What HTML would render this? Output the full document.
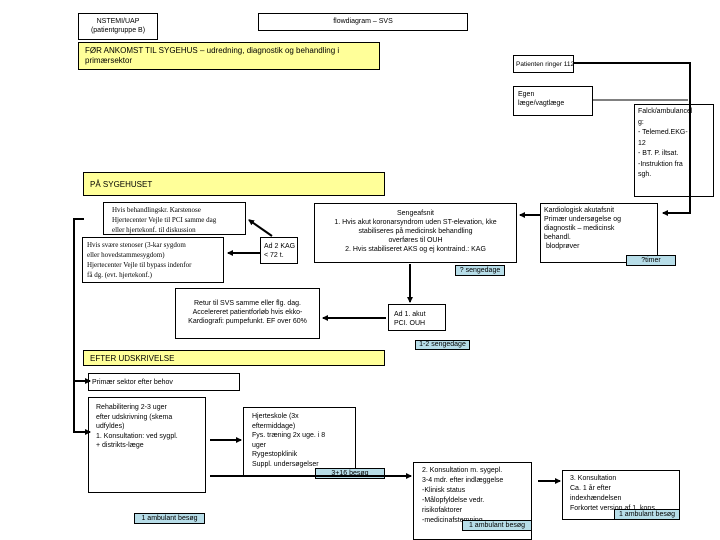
<!DOCTYPE html>
<html><head><meta charset="utf-8"><style>
body{margin:0;width:720px;height:540px;background:#fff;position:relative;overflow:hidden;font-family:"Liberation Sans",sans-serif;font-size:7px;line-height:9px;color:#000}
.b{position:absolute;border:1px solid #000;background:#fff;box-sizing:border-box;padding:2px 3px;white-space:nowrap}
.y{position:absolute;border:1px solid #000;background:#ffff99;box-sizing:border-box;padding:3px 6px;font-size:8px;line-height:10px}
.t{position:absolute;border:1px solid #000;background:#b7dde8;box-sizing:border-box;font-size:7px;line-height:9px;text-align:center}
.c{text-align:center}
.s{font-family:"Liberation Serif",serif;font-size:7px;line-height:10px}
svg{position:absolute;left:0;top:0}
</style></head><body>
<div class="b c" style="left:78px;top:13px;width:80px;height:27px;padding-top:3px">NSTEMI/UAP<br>(patientgruppe B)</div>
<div class="b c" style="left:258px;top:13px;width:210px;height:18px;padding-top:3px">flowdiagram – SVS</div>
<div class="y" style="left:78px;top:42px;width:302px;height:28px">FØR ANKOMST TIL SYGEHUS – udredning, diagnostik og behandling i<br>primærsektor</div>
<div class="b" style="left:513px;top:55px;width:61px;height:18px;padding:4px 2px;font-size:6.5px">Patienten ringer 112</div>
<div class="b" style="left:513px;top:86px;width:80px;height:30px;padding:3px 4px">Egen<br>læge/vagtlæge</div>
<div class="b" style="left:634px;top:104px;width:80px;height:93px;line-height:10.5px">Falck/ambulancel<br>g:<br>- Telemed.EKG-<br>12<br>- BT. P. iltsat.<br>-Instruktion fra<br>sgh.</div>
<div class="y" style="left:83px;top:172px;width:302px;height:24px;padding-top:7px">PÅ SYGEHUSET</div>
<div class="b s" style="left:103px;top:202px;width:143px;height:33px;padding:2px 8px">Hvis behandlingskr. Karstenose<br>Hjertecenter Vejle til PCI samme dag<br>eller hjertekonf. til diskussion</div>
<div class="b s" style="left:82px;top:237px;width:142px;height:46px;padding:2px 4px">Hvis svære stenoser (3-kar sygdom<br>eller hovedstammesygdom)<br>Hjertecenter Vejle til bypass indenfor<br>få dg. (evt. hjertekonf.)</div>
<div class="b" style="left:260px;top:237px;width:38px;height:27px;padding:4px 3px">Ad 2 KAG<br>&lt; 72 t.</div>
<div class="b c" style="left:314px;top:203px;width:203px;height:60px;padding-top:5px">Sengeafsnit<br>1. Hvis akut koronarsyndrom uden ST-elevation, kke<br>stabiliseres på medicinsk behandling<br>overføres til OUH<br>2. Hvis stabiliseret AKS og ej kontraind.: KAG</div>
<div class="b" style="left:540px;top:203px;width:118px;height:60px">Kardiologisk akutafsnit<br>Primær undersøgelse og<br>diagnostik – medicinsk<br>behandl.<br>&nbsp;blodprøver</div>
<div class="t" style="left:626px;top:255px;width:50px;height:11px">?timer</div>
<div class="t" style="left:455px;top:265px;width:50px;height:11px">? sengedage</div>
<div class="b c" style="left:175px;top:288px;width:145px;height:51px;padding-top:10px">Retur til SVS samme eller flg. dag.<br>Accelereret patientforløb hvis ekko-<br>Kardiografi: pumpefunkt. EF over 60%</div>
<div class="b" style="left:388px;top:304px;width:58px;height:27px;padding:5px">Ad 1. akut<br>PCI. OUH</div>
<div class="t" style="left:415px;top:340px;width:55px;height:10px;line-height:8px">1-2 sengedage</div>
<div class="y" style="left:83px;top:350px;width:302px;height:16px;padding-top:3px">EFTER UDSKRIVELSE</div>
<div class="b" style="left:88px;top:373px;width:152px;height:18px;padding-top:4px">Primær sektor efter behov</div>
<div class="b" style="left:88px;top:397px;width:118px;height:96px;padding:5px 7px;line-height:9.5px">Rehabilitering 2-3 uger<br>efter udskrivning (skema<br>udfyldes)<br>1. Konsultation: ved sygpl.<br>+ distrikts-læge</div>
<div class="b" style="left:243px;top:407px;width:113px;height:69px;padding:4px 8px;line-height:9.5px">Hjerteskole (3x<br>eftermiddage)<br>Fys. træning 2x uge. i 8<br>uger<br>Rygestopklinik<br>Suppl. undersøgelser</div>
<div class="t" style="left:315px;top:468px;width:70px;height:11px">3+16 besøg</div>
<div class="b" style="left:413px;top:462px;width:119px;height:78px;padding:3px 8px;line-height:10px">2. Konsultation m. sygepl.<br>3-4 mdr. efter indlæggelse<br>-Klinisk status<br>-Målopfyldelse vedr.<br>risikofaktorer<br>-medicinafstemning</div>
<div class="b" style="left:562px;top:470px;width:118px;height:50px;padding:3px 7px;line-height:10px;overflow:hidden">3. Konsultation<br>Ca. 1 år efter<br>indexhændelsen<br>Forkortet version af 1. kons.</div>
<div class="t" style="left:134px;top:513px;width:71px;height:11px">1 ambulant besøg</div>
<div class="t" style="left:462px;top:520px;width:70px;height:11px">1 ambulant besøg</div>
<div class="t" style="left:614px;top:509px;width:66px;height:11px">1 ambulant besøg</div>
<svg width="720" height="540">
<defs><marker id="a" markerWidth="6" markerHeight="6" refX="5" refY="3" orient="auto" markerUnits="userSpaceOnUse"><path d="M0,0L6,3L0,6z" fill="#000"/></marker></defs>
<g stroke="#000" fill="none" stroke-width="2">
<polyline points="574,63 690,63 690,213 663,213" marker-end="url(#a)"/>
<line x1="593" y1="100" x2="688" y2="100" stroke-width="1"/>
<line x1="540" y1="215" x2="520" y2="215" marker-end="url(#a)"/>
<line x1="272" y1="236" x2="249" y2="220" marker-end="url(#a)"/>
<line x1="260" y1="253" x2="228" y2="253" marker-end="url(#a)"/>
<line x1="410" y1="264" x2="410" y2="302" marker-end="url(#a)"/>
<line x1="386" y1="318" x2="323" y2="318" marker-end="url(#a)"/>
<polyline points="84,219 74,219 74,432 90,432" marker-end="url(#a)"/>
<line x1="74" y1="381" x2="90" y2="381" marker-end="url(#a)"/>
<line x1="210" y1="440" x2="241" y2="440" marker-end="url(#a)"/>
<line x1="210" y1="476" x2="411" y2="476" marker-end="url(#a)"/>
<line x1="538" y1="481" x2="560" y2="481" marker-end="url(#a)"/>
</g></svg>
</body></html>
